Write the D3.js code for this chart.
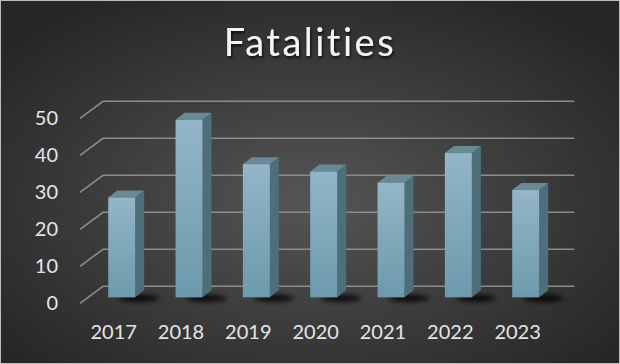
<!DOCTYPE html>
<html><head><meta charset="utf-8">
<script src="https://cdn.jsdelivr.net/npm/d3@7"></script>
<style>html,body{margin:0;padding:0;background:#333;}svg{display:block;}</style>
</head><body>
<svg id="c" width="620" height="364"></svg>
<script>
const categories = ["2017","2018","2019","2020","2021","2022","2023"];
const values = [27, 48, 36, 34, 31, 39, 29];
const yTicks = [0, 10, 20, 30, 40, 50];
const title = "Fatalities";

const W = 620, H = 364;
const svg = d3.select("#c");
const defs = svg.append("defs");

const bg = defs.append("radialGradient").attr("id","bg").attr("cx","50%").attr("cy","55%").attr("r","65%");
bg.append("stop").attr("offset","0%").attr("stop-color","#555555");
bg.append("stop").attr("offset","100%").attr("stop-color","#262626");

const fg = defs.append("linearGradient").attr("id","front").attr("x1",0).attr("y1",0).attr("x2",0).attr("y2",1);
fg.append("stop").attr("offset","0%").attr("stop-color","#93b6c8");
fg.append("stop").attr("offset","100%").attr("stop-color","#6c9aac");

const sh = defs.append("filter").attr("id","blur").attr("x","-50%").attr("y","-200%").attr("width","200%").attr("height","500%");
sh.append("feGaussianBlur").attr("stdDeviation",2.5);

const ts = defs.append("filter").attr("id","tshadow").attr("x","-10%").attr("y","-20%").attr("width","120%").attr("height","150%");
ts.append("feDropShadow").attr("dx",1).attr("dy",2).attr("stdDeviation",1.5).attr("flood-color","#000").attr("flood-opacity",0.8);

svg.append("rect").attr("x",0.5).attr("y",0.5).attr("width",W-1).attr("height",H-1)
  .attr("fill","url(#bg)").attr("stroke","#bdbdbd").attr("stroke-width",1);

// geometry
const depthX = 23, depthY = -17;       // full floor depth
const barPlaneF = 0.35;                // bar front plane fraction of depth
const barDX = 9, barDY = -7;           // bar side depth
const x = d3.scaleBand().domain(categories).range([80, 551.3]).padding(0);
const y = d3.scaleLinear().domain([0, 50]).range([303.3, 118.3]);
const barW = 27;

// gridlines: back wall + left diagonal
const grid = svg.append("g").attr("stroke","#8c8c8c").attr("stroke-width",1.6).attr("fill","none");
yTicks.forEach(t => {
  const yf = y(t);
  grid.append("path").attr("d", `M${x.range()[0]},${yf} L${x.range()[0]+depthX},${yf+depthY} L${x.range()[1]+depthX},${yf+depthY}`);
});

// y labels
svg.append("g").selectAll("text").data(yTicks).join("text")
  .attr("x", 58).attr("y", d => y(d)).attr("dy","0.35em")
  .attr("text-anchor","end").attr("fill","#e6e6e6")
  .attr("font-family","Lato, 'Open Sans', sans-serif").attr("font-size",20)
  .text(d => d);

// bars
const ox = depthX*barPlaneF, oy = depthY*barPlaneF;
const bars = svg.append("g");
categories.forEach((c,i) => {
  const cx = x(c) + x.bandwidth()/2 + ox;
  const x0 = cx - barW/2, x1 = cx + barW/2;
  const yb = y(0) + oy, yt = y(values[i]) + oy;
  // shadow
  bars.append("ellipse").attr("cx", x1+4).attr("cy", yb+1).attr("rx", barW*0.75).attr("ry", 3.5)
    .attr("fill","#000").attr("opacity",0.85).attr("filter","url(#blur)");
  // side
  bars.append("path").attr("d",`M${x1},${yt} L${x1+barDX},${yt+barDY} L${x1+barDX},${yb+barDY} L${x1},${yb}Z`)
    .attr("fill","#4e6e7b");
  // top
  bars.append("path").attr("d",`M${x0},${yt} L${x0+barDX},${yt+barDY} L${x1+barDX},${yt+barDY} L${x1},${yt}Z`)
    .attr("fill","#6a8896");
  // front
  bars.append("rect").attr("x",x0).attr("y",yt).attr("width",barW).attr("height",yb-yt)
    .attr("fill","url(#front)");
});

// x labels
svg.append("g").selectAll("text").data(categories).join("text")
  .attr("x", d => x(d) + x.bandwidth()/2 + 0).attr("y", 339)
  .attr("text-anchor","middle").attr("fill","#e6e6e6")
  .attr("font-family","Lato, 'Open Sans', sans-serif").attr("font-size",20)
  .text(d => d);

// title
svg.append("text").attr("x", 310).attr("y", 56).attr("text-anchor","middle")
  .attr("fill","#f4f4f4").attr("font-family","Lato, 'Open Sans', sans-serif").attr("font-size",38)
  .attr("letter-spacing",2.5).attr("filter","url(#tshadow)")
  .text(title);
</script>
</body></html>
